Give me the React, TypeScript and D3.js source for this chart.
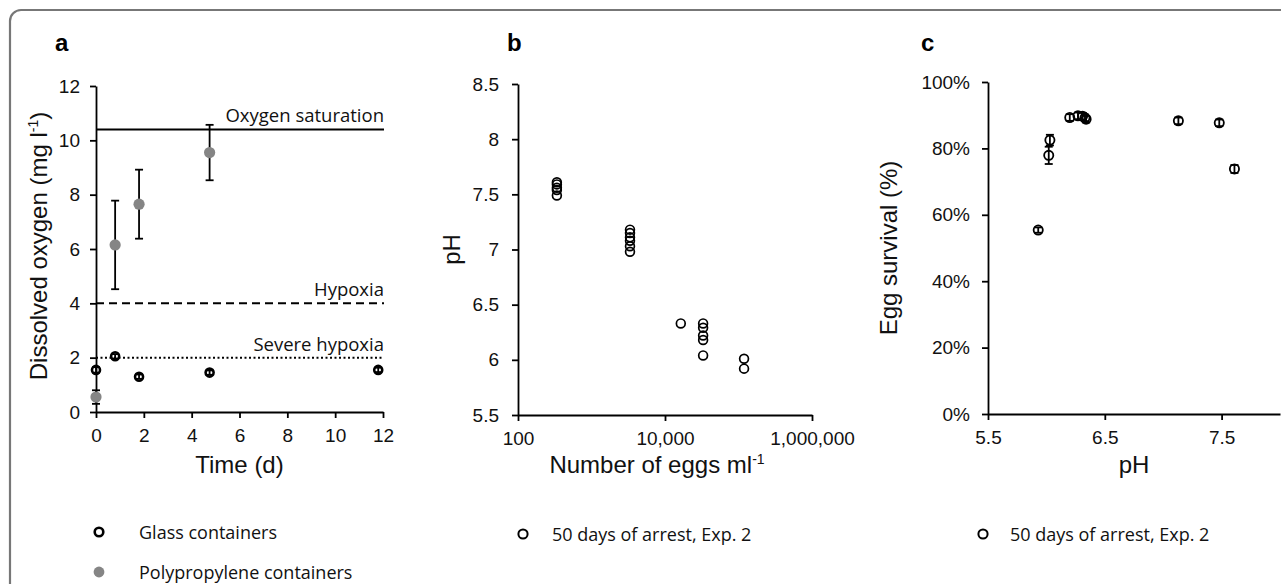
import React, { useRef, useEffect } from 'react';
import * as d3 from 'd3';

// panel a: dissolved oxygen over time
const glassTime = [0, 0.8, 1.8, 4.75, 11.8];
const glassOxygen = [1.55, 2.05, 1.3, 1.45, 1.55];
const glassErr = [0.1, 0.08, 0.08, 0.08, 0.08];
const polyTime = [0, 0.8, 1.8, 4.75];
const polyOxygen = [0.55, 6.15, 7.65, 9.55];
const polyErr = [0.25, 1.63, 1.27, 1.02];
const refValues = [10.4, 4, 2];
const refLabels = ['Oxygen saturation', 'Hypoxia', 'Severe hypoxia'];
const timeTicks = [0, 2, 4, 6, 8, 10, 12];
const oxygenTicks = [0, 2, 4, 6, 8, 10, 12];

// panel b: pH vs egg density
const eggDensity = [
  338, 338, 338, 338, 338,
  3340, 3340, 3340, 3340, 3340, 3340,
  16400,
  33000, 33000, 33000, 33000, 33000,
  119000, 119000,
];
const eggPH = [
  7.61, 7.59, 7.56, 7.54, 7.49,
  7.18, 7.15, 7.11, 7.08, 7.03, 6.98,
  6.33,
  6.33, 6.29, 6.22, 6.18, 6.04,
  6.01, 5.92,
];
const densityTicks = [100, 10000, 1000000];
const phTicksB = [5.5, 6, 6.5, 7, 7.5, 8, 8.5];

// panel c: egg survival vs pH
const survPH = [5.93, 6.02, 6.03, 6.2, 6.27, 6.31, 6.33, 6.34, 7.13, 7.48, 7.61];
const survival = [0.554, 0.779, 0.825, 0.893, 0.898, 0.897, 0.892, 0.888, 0.883, 0.877, 0.738];
const survErr = [0.008, 0.026, 0.016, 0.01, 0.01, 0.01, 0.01, 0.01, 0.01, 0.01, 0.012];
const phTicksC = [5.5, 6.5, 7.5];
const survTicks = [0, 0.2, 0.4, 0.6, 0.8, 1];

const TICK_FONT = '"Liberation Sans", Arial, sans-serif';
const LABEL_FONT = '"Open Sans", sans-serif';
const REF_DASH = ['none', '8,5', '2,2.5'];
const TITLE_SIZE = 24;

const App = () => {
  const svgRef = useRef(null);

  useEffect(() => {
    const svg = d3.select(svgRef.current);
    svg.selectAll('*').remove();

    // frame
    svg
      .append('rect')
      .attr('x', 10)
      .attr('y', 10)
      .attr('width', 1320)
      .attr('height', 620)
      .attr('rx', 11)
      .attr('fill', 'none')
      .attr('stroke', '#777')
      .attr('stroke-width', 2.2);

    const styleAxis = (g, fontSize = 19) => {
      g.selectAll('path').attr('stroke', '#000').attr('stroke-width', 1.8);
      g.selectAll('line').attr('stroke', '#000').attr('stroke-width', 1.8);
      g.selectAll('text')
        .attr('fill', '#111')
        .style('font-family', TICK_FONT)
        .style('font-size', `${fontSize}px`);
    };

    const panelLetter = (x, y, t) =>
      svg
        .append('text')
        .attr('x', x)
        .attr('y', y)
        .text(t)
        .style('font-family', TICK_FONT)
        .style('font-weight', 'bold')
        .style('font-size', '24px');

    const axisTitle = (sel) =>
      sel
        .style('font-family', TICK_FONT)
        .style('font-size', `${TITLE_SIZE}px`)
        .attr('fill', '#111');

    const errorBars = (g, xs, ys, errs, xScale, yScale, cap) => {
      xs.forEach((xv, i) => {
        const cx = xScale(xv);
        const top = yScale(ys[i] + errs[i]);
        const bot = yScale(ys[i] - errs[i]);
        g.append('line').attr('x1', cx).attr('x2', cx).attr('y1', top).attr('y2', bot);
        g.append('line').attr('x1', cx - cap).attr('x2', cx + cap).attr('y1', top).attr('y2', top);
        g.append('line').attr('x1', cx - cap).attr('x2', cx + cap).attr('y1', bot).attr('y2', bot);
      });
      g.attr('stroke', '#000').attr('stroke-width', 1.8);
    };

    // ---------- panel a ----------
    const xA = d3.scaleLinear().domain([0, 12]).range([96, 383]);
    const yA = d3.scaleLinear().domain([0, 12]).range([412, 86]);

    const axA = svg.append('g').attr('transform', `translate(0, ${yA(0)})`)
      .call(d3.axisBottom(xA).tickValues(timeTicks).tickSize(6).tickPadding(11).tickSizeOuter(0));
    styleAxis(axA);
    const ayA = svg.append('g').attr('transform', `translate(${xA(0)}, 0)`)
      .call(d3.axisLeft(yA).tickValues(oxygenTicks).tickSize(6).tickPadding(10).tickSizeOuter(0));
    styleAxis(ayA);

    refValues.forEach((v, i) => {
      svg
        .append('line')
        .attr('x1', xA(0))
        .attr('x2', xA(12) + 1)
        .attr('y1', yA(v))
        .attr('y2', yA(v))
        .attr('stroke', '#000')
        .attr('stroke-width', 2)
        .attr('stroke-dasharray', REF_DASH[i]);
      svg
        .append('text')
        .attr('x', xA(12) + 1)
        .attr('y', yA(v) - 7)
        .attr('text-anchor', 'end')
        .text(refLabels[i])
        .style('font-family', LABEL_FONT)
        .style('font-size', '18.5px')
        .attr('fill', '#111');
    });

    errorBars(svg.append('g'), polyTime, polyOxygen, polyErr, xA, yA, 4);
    errorBars(svg.append('g'), glassTime, glassOxygen, glassErr, xA, yA, 4);

    svg.append('g').selectAll('circle').data(polyTime).enter().append('circle')
      .attr('cx', (d) => xA(d))
      .attr('cy', (d, i) => yA(polyOxygen[i]))
      .attr('r', 5.6)
      .attr('fill', '#858585');
    svg.append('g').selectAll('circle').data(glassTime).enter().append('circle')
      .attr('cx', (d) => xA(d))
      .attr('cy', (d, i) => yA(glassOxygen[i]))
      .attr('r', 4)
      .attr('fill', 'none')
      .attr('stroke', '#000')
      .attr('stroke-width', 2.6);

    const titleA = axisTitle(svg.append('text')
      .attr('transform', `translate(47, ${(yA(0) + yA(12)) / 2 - 3}) rotate(-90)`)
      .attr('text-anchor', 'middle'));
    titleA.append('tspan').text('Dissolved oxygen (mg l');
    titleA.append('tspan').text('-1').attr('dy', -9).style('font-size', '14px');
    titleA.append('tspan').text(')').attr('dy', 9);

    axisTitle(svg.append('text')
      .attr('x', (xA(0) + xA(12)) / 2)
      .attr('y', 473)
      .attr('text-anchor', 'middle')
      .text('Time (d)'));

    panelLetter(55, 51, 'a');

    // legend a
    svg.append('circle').attr('cx', 99).attr('cy', 532).attr('r', 4.3)
      .attr('fill', 'none').attr('stroke', '#000').attr('stroke-width', 2.6);
    svg.append('text').attr('x', 139).attr('y', 538.5).text('Glass containers')
      .style('font-family', LABEL_FONT).style('font-size', '18px').attr('fill', '#111');
    svg.append('circle').attr('cx', 99).attr('cy', 572).attr('r', 5.4).attr('fill', '#858585');
    svg.append('text').attr('x', 139).attr('y', 578.5).text('Polypropylene containers')
      .style('font-family', LABEL_FONT).style('font-size', '18px').attr('fill', '#111');

    // ---------- panel b ----------
    const xB = d3.scaleLog().domain([100, 1000000]).range([518, 812]);
    const yB = d3.scaleLinear().domain([5.5, 8.5]).range([415, 84]);

    const axB = svg.append('g').attr('transform', `translate(0, ${yB(5.5)})`)
      .call(d3.axisBottom(xB).tickValues(densityTicks).tickFormat(d3.format(',')).tickSize(6).tickPadding(11).tickSizeOuter(0));
    styleAxis(axB);
    const ayB = svg.append('g').attr('transform', `translate(${xB(100)}, 0)`)
      .call(d3.axisLeft(yB).tickValues(phTicksB).tickFormat((d) => String(d)).tickSize(6).tickPadding(13).tickSizeOuter(0));
    styleAxis(ayB);

    svg.append('g').selectAll('circle').data(eggDensity).enter().append('circle')
      .attr('cx', (d) => xB(d))
      .attr('cy', (d, i) => yB(eggPH[i]))
      .attr('r', 4.4)
      .attr('fill', 'none')
      .attr('stroke', '#000')
      .attr('stroke-width', 1.7);

    axisTitle(svg.append('text')
      .attr('transform', `translate(460, ${(yB(5.5) + yB(8.5)) / 2}) rotate(-90)`)
      .attr('text-anchor', 'middle')
      .text('pH'));

    const titleB = axisTitle(svg.append('text')
      .attr('x', 657)
      .attr('y', 473)
      .attr('text-anchor', 'middle'));
    titleB.append('tspan').text('Number of eggs ml');
    titleB.append('tspan').text('-1').attr('dy', -9).style('font-size', '14px');

    panelLetter(507, 51, 'b');

    svg.append('circle').attr('cx', 523).attr('cy', 534).attr('r', 4.6)
      .attr('fill', 'none').attr('stroke', '#000').attr('stroke-width', 2);
    svg.append('text').attr('x', 552).attr('y', 540.5).text('50 days of arrest, Exp. 2')
      .style('font-family', LABEL_FONT).style('font-size', '18px').attr('fill', '#111');

    // ---------- panel c ----------
    const xC = d3.scaleLinear().domain([5.5, 8.0]).range([988, 1280]);
    const yC = d3.scaleLinear().domain([0, 1]).range([414, 82]);

    const axC = svg.append('g').attr('transform', `translate(0, ${yC(0)})`)
      .call(d3.axisBottom(xC).tickValues(phTicksC).tickFormat(d3.format('.1f')).tickSize(6).tickPadding(11).tickSizeOuter(0));
    styleAxis(axC);
    const ayC = svg.append('g').attr('transform', `translate(${xC(5.5)}, 0)`)
      .call(d3.axisLeft(yC).tickValues(survTicks).tickFormat(d3.format('.0%')).tickSize(6).tickPadding(12).tickSizeOuter(0));
    styleAxis(ayC);

    errorBars(svg.append('g'), survPH, survival, survErr, xC, yC, 4);
    svg.append('g').selectAll('circle').data(survPH).enter().append('circle')
      .attr('cx', (d) => xC(d))
      .attr('cy', (d, i) => yC(survival[i]))
      .attr('r', 4.6)
      .attr('fill', 'none')
      .attr('stroke', '#000')
      .attr('stroke-width', 1.8);

    axisTitle(svg.append('text')
      .attr('transform', `translate(897, ${(yC(0) + yC(1)) / 2}) rotate(-90)`)
      .attr('text-anchor', 'middle')
      .text('Egg survival (%)'));
    axisTitle(svg.append('text')
      .attr('x', 1134)
      .attr('y', 473)
      .attr('text-anchor', 'middle')
      .text('pH'));

    panelLetter(921, 51, 'c');

    svg.append('circle').attr('cx', 983).attr('cy', 534).attr('r', 4.6)
      .attr('fill', 'none').attr('stroke', '#000').attr('stroke-width', 2);
    svg.append('text').attr('x', 1010).attr('y', 540.5).text('50 days of arrest, Exp. 2')
      .style('font-family', LABEL_FONT).style('font-size', '18px').attr('fill', '#111');
  }, []);

  return (
    <svg
      ref={svgRef}
      width={1281}
      height={584}
      style={{ position: 'absolute', left: 0, top: 0, background: '#fff' }}
    />
  );
};

export default App;
